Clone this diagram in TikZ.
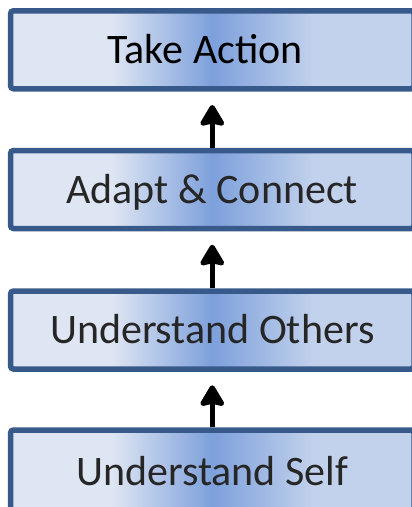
\documentclass[tikz,border=0pt]{standalone}
\usepackage{fontspec}
\setmainfont{Carlito}
\usetikzlibrary{arrows.meta}
\definecolor{cL}{HTML}{DFE6F3}
\definecolor{cM}{HTML}{7DA0DB}
\definecolor{cR}{HTML}{C2D1EC}
\definecolor{bord}{HTML}{385A8A}
\definecolor{txt}{HTML}{262626}
\pgfdeclarehorizontalshading{boxshade}{100bp}{color(0bp)=(cL); color(37.5bp)=(cL); color(50bp)=(cM); color(62.5bp)=(cR); color(100bp)=(cR)}
\begin{document}
\begin{tikzpicture}[x=1pt,y=-1pt,
  stepbox/.style={draw=bord, line width=5.5pt, rounded corners=3pt, shading=boxshade,
    minimum width=403.5pt, minimum height=78pt, inner sep=0pt,
    text height=27pt, text depth=0pt,
    font=\fontsize{42}{50}\selectfont, text=txt},
  uparrow/.style={line width=5pt, shorten >=13.5pt,
    -{Stealth[length=24pt,width=28pt,inset=3pt,round]}}]
\useasboundingbox (0,0) rectangle (412,507);
\clip (0,0) rectangle (412,507);
\node[stepbox, text=black] (act) at (212.25,49.75) {Take Action\rule{14pt}{0pt}};
\node[stepbox] (adapt) at (212.25,189.5) {Adapt \& Connect};
\node[stepbox] (others) at (212.25,330) {Understand Others};
\node[stepbox, minimum height=84pt] (self) at (212.25,472) {Understand Self};
\draw[uparrow] (adapt.north) -- (act.south);
\draw[uparrow] (others.north) -- (adapt.south);
\draw[uparrow] (self.north) -- (others.south);
\end{tikzpicture}
\end{document}
